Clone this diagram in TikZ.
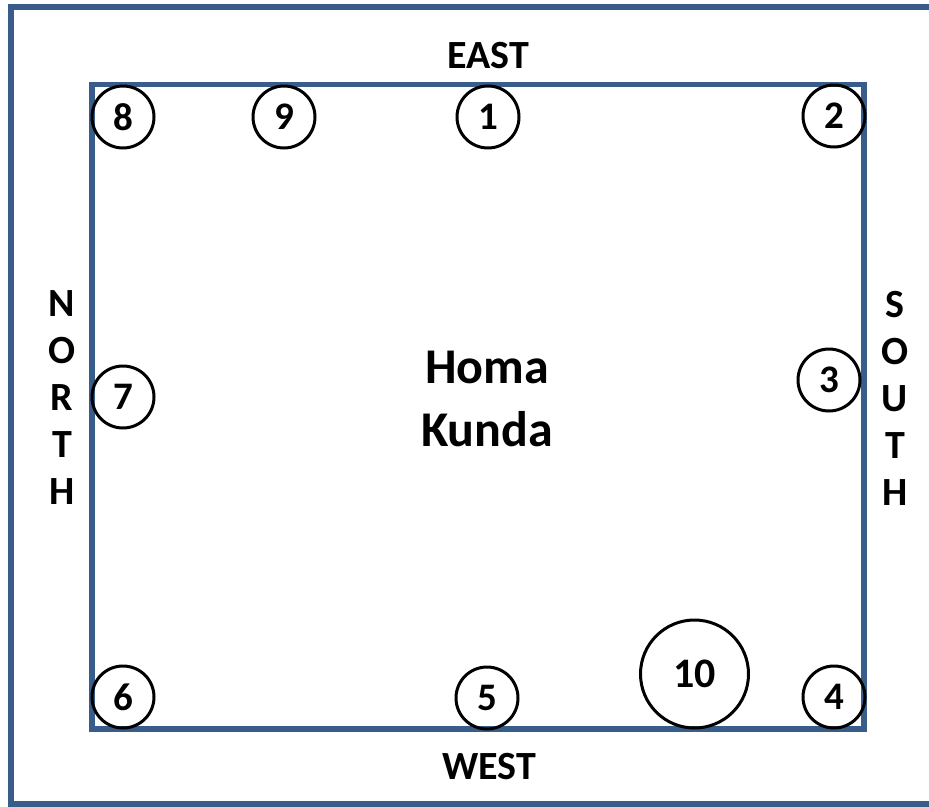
\documentclass[tikz,border=0pt]{standalone}
\usepackage{fontspec}
\setmainfont{Carlito}
\definecolor{frameblue}{HTML}{385D8A}
\tikzset{
  spot/.style={circle,draw=black,line width=3pt,minimum size=62pt,inner sep=0pt,
    font=\bfseries\fontsize{39}{46}\selectfont},
  bigspot/.style={spot,minimum size=108pt,font=\bfseries\fontsize{42}{50}\selectfont},
  dirlabel/.style={inner sep=0pt,align=center,font=\bfseries\fontsize{40}{47}\selectfont},
  frame/.style={draw=frameblue,line width=5.5pt}
}
\begin{document}
\begin{tikzpicture}[x=1pt,y=-1pt]
\fill[white] (0,0) rectangle (929,806);
\useasboundingbox (0,0) rectangle (929,806);
\coordinate (otr) at (929,7);
\coordinate (otl) at (11,7);
\coordinate (obl) at (11,804);
\coordinate (obr) at (929,804);
\draw[frame,line width=6pt,line join=miter] (otr) -- (otl) -- (obl) -- (obr);
\draw[frame] (92,84.5) rectangle (864,729);
\node[spot] (s8) at (123,117) {8};
\node[spot] (s9) at (284,117) {9};
\node[spot] (s1) at (488,117) {1};
\node[spot] (s2) at (834,116) {2};
\node[spot] (s7) at (123,397) {7};
\node[spot] (s3) at (829,380) {3};
\node[spot] (s6) at (123,697) {6};
\node[spot] (s5) at (487,698) {5};
\node[spot] (s4) at (834,697) {4};
\node[bigspot] (s10) at (694.5,674) {10};
\node[dirlabel] (east) at (488,56) {EAST};
\node[dirlabel] (west) at (489,767) {WEST};
\node[dirlabel] (north) at (62,398) {N\\O\\R\\T\\H};
\node[dirlabel] (south) at (895,398) {S\\O\\U\\T\\H};
\node[inner sep=0pt,align=center,font=\bfseries\fontsize{50}{63}\selectfont] (homa) at (487,399) {Homa\\Kunda};
\end{tikzpicture}
\end{document}
